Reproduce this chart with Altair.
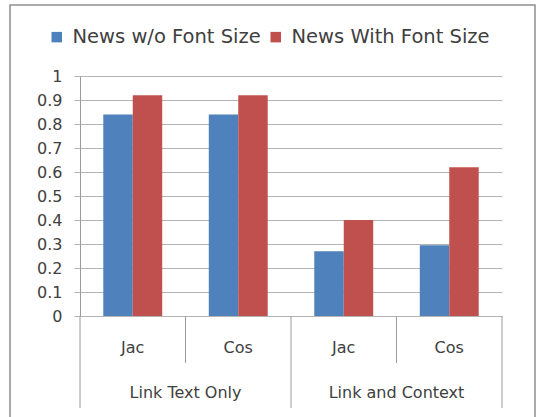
import altair as alt
import pandas as pd

# ---- data ----
methods = ["Jac", "Cos", "Jac", "Cos"]
groups = ["Link Text Only", "Link Text Only", "Link and Context", "Link and Context"]
series = ["News w/o Font Size", "News With Font Size"]
wo_font = [0.84, 0.84, 0.27, 0.295]
with_font = [0.92, 0.92, 0.40, 0.62]
y_ticks = [0, 0.1, 0.2, 0.3, 0.4, 0.5, 0.6, 0.7, 0.8, 0.9, 1]

colors = ["#4F81BD", "#C0504D"]
FONT = "DejaVu Sans"
TXT = "#404040"
GRID = "#b4b4b4"
LINE = "#9a9a9a"

keys = [f"{g}|{m}" for g, m in zip(groups, methods)]

rows = []
for k, m, g, a, b in zip(keys, methods, groups, wo_font, with_font):
    rows.append({"key": k, "method": m, "group": g, "series": series[0], "value": a})
    rows.append({"key": k, "method": m, "group": g, "series": series[1], "value": b})
df = pd.DataFrame(rows)

W, H = 422, 240
xscale = alt.Scale(domain=keys, paddingInner=0, paddingOuter=0)

bars = alt.Chart(df).mark_bar().encode(
    x=alt.X("key:N", scale=xscale, axis=None),
    xOffset=alt.XOffset("series:N", scale=alt.Scale(domain=series, paddingInner=0, paddingOuter=0.79)),
    y=alt.Y(
        "value:Q",
        scale=alt.Scale(domain=[0, 1]),
        axis=alt.Axis(
            values=y_ticks, format="~g", title=None, grid=True, gridColor=GRID,
            domainColor=LINE, tickColor=GRID, tickSize=6, labelPadding=12,
            labelFont=FONT, labelFontSize=16, labelColor=TXT,
        ),
    ),
    color=alt.Color(
        "series:N",
        scale=alt.Scale(domain=series, range=colors),
        legend=alt.Legend(
            title=None, orient="none", legendX=-33, legendY=-49, direction="horizontal",
            symbolType="square", symbolSize=110, symbolStrokeWidth=0,
            labelFont=FONT, labelFontSize=19.5, labelColor=TXT, labelOffset=6,
            labelLimit=400, columnPadding=5,
        ),
    ),
)

cat_df = pd.DataFrame({"key": keys, "method": methods})
method_labels = alt.Chart(cat_df).mark_text(
    font=FONT, fontSize=16, color=TXT, baseline="middle"
).encode(x=alt.X("key:N", scale=xscale, axis=None), y=alt.value(272), text="method:N")

# separators
short_df = pd.DataFrame({"key": [keys[1], keys[3]]})
long_df = pd.DataFrame({"key": [keys[0], keys[2]]})
end_df = pd.DataFrame({"key": [keys[3]]})

short_rules = alt.Chart(short_df).mark_rule(color=LINE, strokeWidth=1).encode(
    x=alt.X("key:N", scale=xscale, axis=None, bandPosition=0),
    y=alt.value(H), y2=alt.value(H + 47),
)
long_rules = alt.Chart(long_df).mark_rule(color=LINE, strokeWidth=1).encode(
    x=alt.X("key:N", scale=xscale, axis=None, bandPosition=0),
    y=alt.value(H), y2=alt.value(H + 92),
)
end_rule = alt.Chart(end_df).mark_rule(color=LINE, strokeWidth=1).encode(
    x=alt.X("key:N", scale=xscale, axis=None, bandPosition=1),
    y=alt.value(H), y2=alt.value(H + 92),
)

grp_df = pd.DataFrame({"key": [keys[1], keys[3]], "group": [groups[0], groups[2]]})
group_labels = alt.Chart(grp_df).mark_text(
    font=FONT, fontSize=16, color=TXT, baseline="middle"
).encode(
    x=alt.X("key:N", scale=xscale, axis=None, bandPosition=0),
    y=alt.value(317), text="group:N",
)

frame = alt.Chart(pd.DataFrame({"a": [0]})).mark_rect(
    fillOpacity=0, stroke="#8f8f8f", strokeWidth=1.5
).encode(x=alt.value(-70), x2=alt.value(455), y=alt.value(-71), y2=alt.value(380))

chart = alt.layer(
    frame, bars, method_labels, short_rules, long_rules, end_rule, group_labels
).properties(
    width=W, height=H,
    autosize=alt.AutoSizeParams(type="none"),
    padding={"left": 80, "top": 76, "right": 36, "bottom": 101},
    background="white",
).configure_view(stroke=None)

chart.save("out.html", embed_options={"renderer": "svg", "actions": False})
